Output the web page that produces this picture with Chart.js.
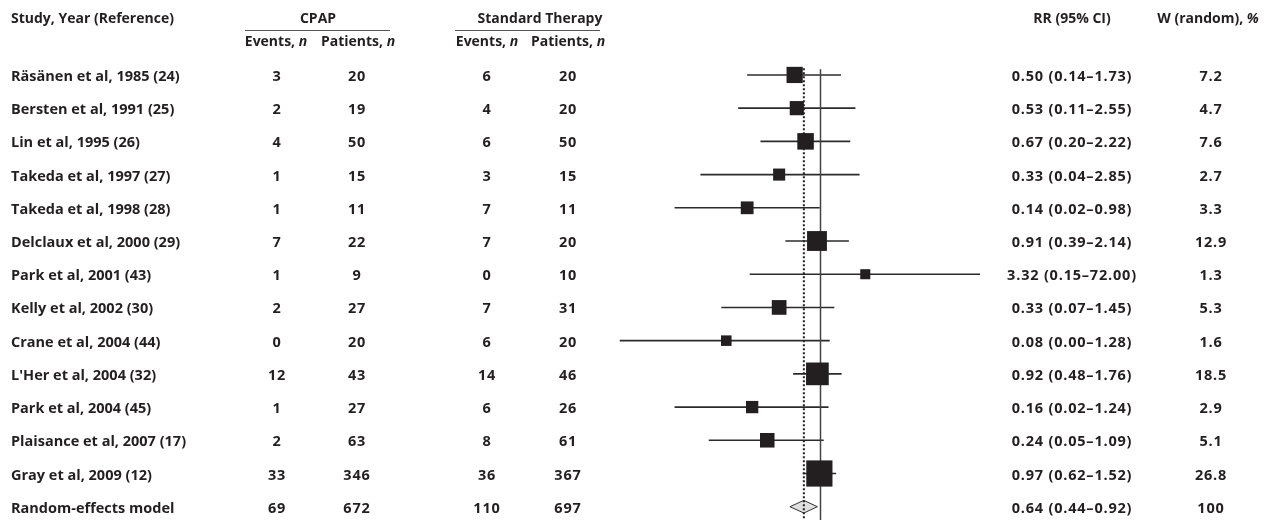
<!DOCTYPE html>
<html>
<head>
<meta charset="utf-8">
<title>CPAP vs standard therapy - forest plot</title>
<script src="https://cdn.jsdelivr.net/npm/chart.js@4/dist/chart.umd.min.js"></script>
<style>
  body { margin: 0; background: #fff; }
  #wrap {
    position: relative; width: 1269px; height: 520px; overflow: hidden;
    font-family: "Open Sans", sans-serif; font-weight: 700; font-size: 14.5px; color: #231f20;
  }
  #forest { position: absolute; left: 0; top: 0; }
  .cell { position: absolute; white-space: nowrap; line-height: 1; transform: translate(-50%, -50%); }
  .cell.left { transform: translate(0, -50%); }
  .cell.num { letter-spacing: 0.8px; }
  .head { font-size: 14px; }
  .rule { position: absolute; height: 0; border-top: 1.5px solid #555; }
</style>
</head>
<body>
<div id="wrap">
  <canvas id="forest" width="1269" height="520"></canvas>
  <div class="cell left head" style="left:11px;top:18px">Study, Year (Reference)</div>
  <div class="cell head" style="left:318px;top:18px">CPAP</div>
  <div class="rule" style="left:245px;top:30px;width:145px"></div>
  <div class="cell head" style="left:540px;top:18px">Standard Therapy</div>
  <div class="rule" style="left:455px;top:30px;width:145px"></div>
  <div class="cell head" style="left:276px;top:41px">Events, <i>n</i></div>
  <div class="cell head" style="left:358px;top:41px">Patients, <i>n</i></div>
  <div class="cell head" style="left:487px;top:41px">Events, <i>n</i></div>
  <div class="cell head" style="left:568px;top:41px">Patients, <i>n</i></div>
  <div class="cell head" style="left:1072px;top:18px">RR (95% CI)</div>
  <div class="cell head" style="left:1208px;top:18px">W (random), <i>%</i></div>
</div>
<script>
"use strict";

const studies = [
  'Räsänen et al, 1985 (24)', 'Bersten et al, 1991 (25)', 'Lin et al, 1995 (26)',
  'Takeda et al, 1997 (27)', 'Takeda et al, 1998 (28)', 'Delclaux et al, 2000 (29)',
  'Park et al, 2001 (43)', 'Kelly et al, 2002 (30)', 'Crane et al, 2004 (44)',
  "L'Her et al, 2004 (32)", 'Park et al, 2004 (45)', 'Plaisance et al, 2007 (17)',
  'Gray et al, 2009 (12)'
];
const cpapEvents = [3, 2, 4, 1, 1, 7, 1, 2, 0, 12, 1, 2, 33];
const cpapPatients = [20, 19, 50, 15, 11, 22, 9, 27, 20, 43, 27, 63, 346];
const stdEvents = [6, 4, 6, 3, 7, 7, 0, 7, 6, 14, 6, 8, 36];
const stdPatients = [20, 20, 50, 15, 11, 20, 10, 31, 20, 46, 26, 61, 367];
const rr = [0.50, 0.53, 0.67, 0.33, 0.14, 0.91, 3.32, 0.33, 0.08, 0.92, 0.16, 0.24, 0.97];
// Crane's lower limit prints as 0.00; the line runs to about 0.0046
const ciLow = [0.14, 0.11, 0.20, 0.04, 0.02, 0.39, 0.15, 0.07, 0.0046, 0.48, 0.02, 0.05, 0.62];
const ciHigh = [1.73, 2.55, 2.22, 2.85, 0.98, 2.14, 72.00, 1.45, 1.28, 1.76, 1.24, 1.09, 1.52];
const weights = [7.2, 4.7, 7.6, 2.7, 3.3, 12.9, 1.3, 5.3, 1.6, 18.5, 2.9, 5.1, 26.8];

const pooledLabel = 'Random-effects model';
const pooledCounts = [69, 672, 110, 697];
const pooledRR = 0.64;
const pooledLow = 0.44;
const pooledHigh = 0.92;
const pooledWeight = 100;

// column centres of the table, px
const colX = [277, 357, 487, 568];
const rrColX = 1072;
const wColX = 1211;

const pooledRow = studies.length;
const diamondHalf = 0.19;

function boxSide(w) {
  return 5.5 + 4 * Math.sqrt(w);
}

function fmt(v) {
  return v.toFixed(2);
}

function ciText(est, lo, hi) {
  return `${fmt(est)} (${fmt(lo)}–${fmt(hi)})`;
}

const whiskers = studies.map((s, i) => ({
  type: 'line',
  data: [{ x: ciLow[i], y: i }, { x: ciHigh[i], y: i }],
  borderColor: '#2b2b2b',
  borderWidth: 1.6,
  pointRadius: 0,
  order: 5
}));

const datasets = [
  {
    type: 'line',
    data: [
      { x: pooledLow, y: pooledRow },
      { x: pooledRR, y: pooledRow - diamondHalf },
      { x: pooledHigh, y: pooledRow },
      { x: pooledRR, y: pooledRow + diamondHalf },
      { x: pooledLow, y: pooledRow }
    ],
    borderColor: '#333',
    borderWidth: 1,
    backgroundColor: '#e0e0e0',
    fill: 'shape',
    pointRadius: 0,
    order: 6
  },
  ...whiskers,
  {
    type: 'line',
    data: [{ x: 1, y: -0.17 }, { x: 1, y: 13.4 }],
    borderColor: '#444',
    borderWidth: 1.5,
    pointRadius: 0,
    order: 4
  },
  {
    type: 'line',
    data: [{ x: pooledRR, y: -0.2 }, { x: pooledRR, y: 13.4 }],
    borderColor: '#222',
    borderWidth: 2,
    borderDash: [2, 2],
    pointRadius: 0,
    order: 3
  },
  {
    type: 'scatter',
    data: rr.map((v, i) => ({ x: v, y: i })),
    pointStyle: 'rect',
    pointRadius: weights.map(w => boxSide(w) / Math.SQRT2),
    backgroundColor: '#231f20',
    borderWidth: 0,
    order: 1
  }
];

const chart = new Chart(document.getElementById('forest'), {
  type: 'scatter',
  data: { datasets: datasets.map(d => Object.assign({ clip: false }, d)) },
  options: {
    responsive: false,
    animation: false,
    events: [],
    layout: { autoPadding: false, padding: { left: 600, right: 269, top: 60, bottom: 0 } },
    plugins: { legend: { display: false }, tooltip: { enabled: false } },
    scales: {
      x: { type: 'logarithmic', min: 0.00271, max: 122.9, bounds: 'data', display: false },
      y: { type: 'linear', min: -0.45, max: 13.4, bounds: 'data', reverse: true, display: false }
    }
  }
});

const wrap = document.getElementById('wrap');

function addCell(html, x, y, cls) {
  const el = document.createElement('div');
  el.className = 'cell ' + cls;
  el.style.left = x + 'px';
  el.style.top = y + 'px';
  el.innerHTML = html;
  wrap.appendChild(el);
}

function addRow(i, label, counts, est, lo, hi, w) {
  const y = chart.scales.y.getPixelForValue(i) + 1;
  addCell(label, 11, y, 'left');
  counts.forEach((c, k) => addCell(String(c), colX[k], y, 'num'));
  addCell(ciText(est, lo, hi), rrColX, y, 'num');
  addCell(String(w), wColX, y, 'num');
}

studies.forEach((s, i) => {
  addRow(i, s, [cpapEvents[i], cpapPatients[i], stdEvents[i], stdPatients[i]],
    rr[i], ciLow[i], ciHigh[i], weights[i]);
});
addRow(pooledRow, pooledLabel, pooledCounts, pooledRR, pooledLow, pooledHigh, pooledWeight);
</script>
</body>
</html>
